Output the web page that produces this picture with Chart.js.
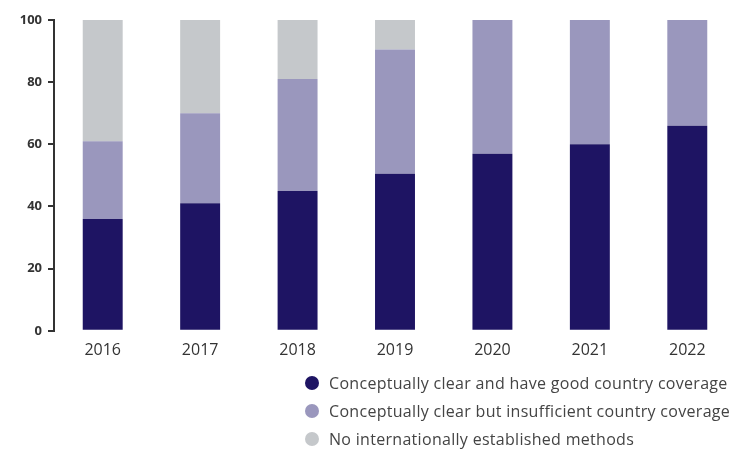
<!DOCTYPE html>
<html>
<head>
<meta charset="utf-8">
<script src="https://cdn.jsdelivr.net/npm/chart.js@4.4.1/dist/chart.umd.min.js"></script>
<style>
  body { margin: 0; background: #fff; }
  #wrap { position: relative; width: 736px; height: 453px; }
  #legend { position: absolute; left: 305px; top: 369px; font-family: "Open Sans", sans-serif; font-size: 16px; letter-spacing: 0.3px; color: #444; }
  #legend div { height: 28px; line-height: 28px; white-space: nowrap; }
  #legend span { display: inline-block; width: 14px; height: 14px; border-radius: 50%; margin-right: 10px; vertical-align: -1px; }
</style>
</head>
<body>
<div id="wrap">
  <canvas id="chart" width="736" height="453"></canvas>
  <div id="legend"></div>
</div>
<script>
// ---------- data ----------
var years = ["2016", "2017", "2018", "2019", "2020", "2021", "2022"];
var goodCoverage = [36, 41, 45, 50.5, 57, 60, 66];
var poorCoverage = [25, 29, 36, 40, 43, 40, 34];
var noMethods = [39, 30, 19, 9.5, 0, 0, 0];
var seriesNames = [
  "Conceptually clear and have good country coverage",
  "Conceptually clear but insufficient country coverage",
  "No internationally established methods"
];
var seriesColors = ["#1e1463", "#9a97bd", "#c5c8cb"];
var yTicks = [0, 20, 40, 60, 80, 100];

var series = [goodCoverage, poorCoverage, noMethods];
var datasets = series.map(function (vals, i) {
  return {
    label: seriesNames[i],
    data: vals,
    backgroundColor: seriesColors[i],
    barPercentage: 0.41,
    categoryPercentage: 1
  };
});

// html legend
var legend = document.getElementById("legend");
seriesNames.forEach(function (name, i) {
  var row = document.createElement("div");
  var dot = document.createElement("span");
  dot.style.background = seriesColors[i];
  row.appendChild(dot);
  row.appendChild(document.createTextNode(name));
  legend.appendChild(row);
});

var ctx = document.getElementById("chart").getContext("2d");
new Chart(ctx, {
  type: "bar",
  data: { labels: years, datasets: datasets },
  options: {
    responsive: false,
    animation: false,
    layout: { padding: { top: 20, left: 0, right: 0, bottom: 91 } },
    plugins: { legend: { display: false }, tooltip: { enabled: false } },
    scales: {
      x: {
        stacked: true,
        grid: { display: false },
        border: { display: false },
        ticks: { color: "#333", font: { family: "Open Sans", size: 16 }, padding: 2 }
      },
      y: {
        stacked: true,
        min: 0,
        max: 100,
        afterBuildTicks: function (scale) {
          scale.ticks = yTicks.map(function (v) { return { value: v }; });
        },
        afterFit: function (scale) { scale.width = 54; },
        grid: { drawOnChartArea: false, drawTicks: true, tickLength: 6, color: "#333", lineWidth: 2 },
        border: { display: true, color: "#333", width: 2 },
        ticks: { color: "#333", font: { family: "Open Sans", size: 13, weight: "bold" }, padding: 6 }
      }
    }
  }
});
</script>
</body>
</html>
